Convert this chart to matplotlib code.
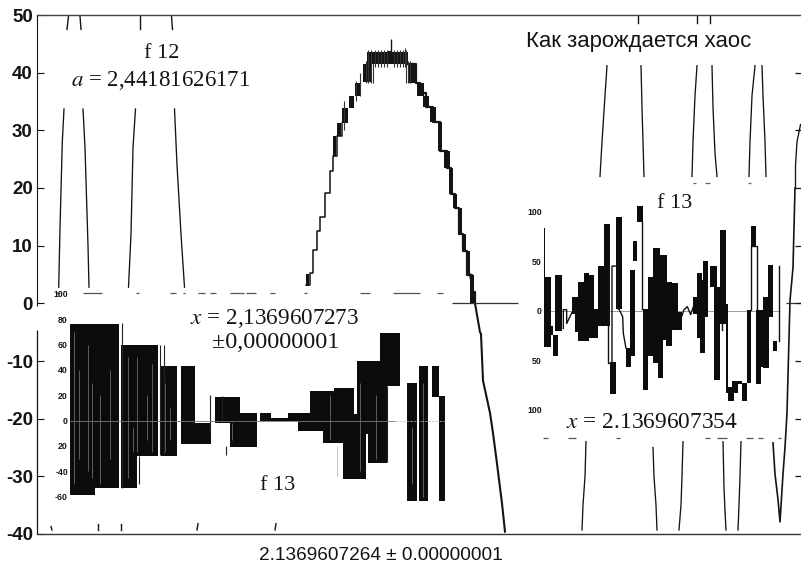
import matplotlib
matplotlib.use("Agg")
import matplotlib.pyplot as plt

W, H = 801, 566
INK = "#141414"
plt.rcParams["mathtext.fontset"] = "stix"
SERIF = "Liberation Serif"
SANS = "Liberation Sans"

# ---------- main plot data (x = position along the axis, y = f12 value) ----------
y_ticks = [50, 40, 30, 20, 10, 0, -10, -20, -30, -40]
branch_x = [
    [58.7, 60, 62.3, 64], [83, 85, 88, 89], [128.5, 131, 133, 135.5], [174.5, 177, 181, 184.5],
    [600, 602, 605, 607], [641, 642, 643, 644], [692, 693, 695, 697], [712, 713, 715, 717],
    [749, 750, 752, 755], [762, 763, 765, 766],
    [586, 585, 583, 582], [653, 654, 656, 657], [683, 682, 681, 679], [723, 724, 725, 726],
    [741, 740, 739, 738], [795.5, 795.5, 797, 800.5],
]
branch_y = [
    [2.8, 13, 28, 33.7], [33.7, 27, 10, 2.8], [2.8, 12, 27, 33.7], [33.7, 24, 12, 2.8],
    [22, 28, 36, 41.2], [41.2, 34, 28, 22], [22, 28, 36, 41.2], [41.2, 34, 26, 22],
    [22, 28, 36, 41.2], [41.2, 36, 28, 22],
    [-24, -30, -35, -39.3], [-25, -30, -35, -39.3], [-24, -30, -35, -39.3], [-24, -32, -36, -39.3],
    [-24, -30, -35, -39.3], [20, 24, 28, 31],
]
stub_x = [[67, 68.5], [80, 81], [140, 140], [171.5, 172.5], [638, 638], [697, 697], [710, 710],
          [52, 51], [98, 98], [121, 121], [197, 198], [275, 276]]
stub_y = [[47.5, 49.8], [49.8, 47.5], [47.5, 49.8], [49.8, 47.5], [48.6, 49.8], [48.6, 49.8], [48.6, 49.8],
          [-39.3, -38.7], [-39.3, -38.2], [-39.3, -38.2], [-39.3, -38.2], [-39.3, -38.2]]
stair_x = [305.5, 310, 313, 317, 320, 325, 330, 333, 337, 342]
stair_y = [3.1, 5.2, 9.2, 12.6, 14.9, 19.2, 23, 25.6, 29, 31.3]
fall_x = [408, 416, 420, 426, 433, 440, 447, 451, 455, 459, 463, 467, 472, 475]
fall_y = [41.5, 38.2, 36.5, 34, 31.5, 26.5, 23.5, 19, 16.5, 12, 9, 5, 2, 0]
tail_x = [470, 475, 477, 480, 481, 483, 490, 493, 497, 502, 505]
tail_y = [5, 0, -2, -5, -5.3, -13.4, -19, -22.5, -27.8, -34.7, -39.6]
right_curve_x = [795, 793, 790, 787, 785, 783, 780, 778, 775, 773]
right_curve_y = [20, 6.2, 0.5, -19, -25, -29.6, -37.9, -34, -29.6, -24.2]
thick_x0 = [306, 333, 337, 342, 349, 355, 363, 367, 408, 417, 423, 430, 437.5, 444, 449, 453, 457.5, 462, 465.5, 470, 388]
thick_x1 = [309, 336, 341, 348, 354, 361, 372, 408, 416, 424, 429, 436, 442, 450, 453, 457, 461.5, 465.5, 470, 474, 391]
thick_lo = [3, 25.6, 29, 31.3, 33.9, 36, 38.3, 41.5, 38.2, 36, 34, 31.5, 26.5, 23.5, 19, 16.5, 12, 9, 5, 0, 43]
thick_hi = [5, 29, 31.3, 33.9, 36, 38.2, 41.5, 43.6, 41.5, 38.2, 36, 34, 31.5, 26.5, 23.5, 19, 16.5, 12, 9, 5, 43.8]
fringe_x = [366, 368, 371, 373, 375, 378, 381, 384, 387, 394, 397, 400, 403, 406, 408, 410, 405, 344, 356, 360]
fringe_lo = [38.2, 38.2, 38.2, 38.2, 41, 41, 41, 41, 41, 41, 41, 41, 41, 38.2, 38.2, 38.2, 41, 30, 35, 36]
fringe_hi = [42, 44, 44, 41.6, 44, 44, 44, 44, 44, 44, 44, 44, 44, 44, 42, 42, 44.3, 35, 38.6, 40]
spike_x = [391]
spike_lo = [43]
spike_hi = [45.8]
zero_x0 = [452, 786]
zero_x1 = [518, 801]
dash_left_x0 = [83, 136, 170, 183, 198, 210, 230, 246, 270, 304, 360, 393, 437, 56]
dash_left_x1 = [102, 139, 176, 185, 205, 216, 244, 256, 275, 307, 370, 420, 443, 60]
dash_up_x0 = [693, 705, 748]
dash_up_x1 = [696, 710, 751]
dash_low_x0 = [543, 568, 616, 705, 717, 746, 758, 778]
dash_low_x1 = [548, 576, 620, 710, 727, 753, 763, 781]
right_ticks = [40, 30, 20, 10, 0, -10, -20, -30]

# ---------- left inset (f13) ----------
left_ticks = [100, 80, 60, 40, 20, 0, -20, -40, -60]
left_labels = ["100", "80", "60", "40", "20", "0", "20", "-40", "-60"]
left_x0 = [70, 95, 121, 136.7, 141.7, 160.7, 180.7, 195, 215, 230, 240, 260, 270.7, 288.3, 298.3, 310,
           322.7, 334, 343.3, 354, 357.3, 365.7, 368.3, 380, 386.7, 400, 407.3, 419.3, 431.7, 439.3]
left_x1 = [95, 118.5, 136.7, 141.7, 158, 176.7, 195, 210.7, 230, 240, 256.7, 270.7, 288.3, 298.3, 310, 322.7,
           334, 343.3, 354, 357.3, 365.7, 368.3, 380, 386.7, 400, 407.3, 416.7, 428.3, 439.3, 445]
left_hi = [76.3, 76.3, 60, 60, 60, 43.4, 43.4, -2.1, 18.9, 18.9, 5.8, 5.8, 2.1, 5.8, 5.8, 23.7,
           23.7, 25.8, 25.8, 5.3, 47.4, 47.4, 47.4, 68.9, 68.9, 27.6, 29.5, 43.4, 43.4, 19.7]
left_lo = [-58.7, -53.2, -53.2, -27.6, -27.6, -27.6, -18.4, -18.4, -2.1, -20.5, -20.5, 0, -0.5, -0.5, -8.4, -8.4,
           -17.9, -17.9, -46, -46, -46, -10.5, -33.7, -33.7, 27.6, 27, -63.7, -63.7, 18.9, -63.7]
left_gap_x = [74, 79, 88, 92, 100, 110, 128, 133, 137, 147, 152, 165, 170, 232, 330, 337, 360, 376, 412, 423]
left_gap_hi = [70, 40, 60, 30, 20, 40, 50, -5, 50, 20, 45, 30, 10, -2, 20, -20, 30, 20, -5, 30]
left_gap_lo = [-50, -30, -40, -45, -50, -30, -45, -25, -25, -15, -25, -25, -15, -15, -15, -44, -40, -30, -50, -60]
left_spike_x = [121.5, 160, 164, 210, 222, 226, 139, 387]
left_spike_hi = [77, 60, 60, 20, 19, -20, -28, 27]
left_spike_lo = [-53, -27, -27, -10, 0, -27, -50, -33]

# ---------- right inset (f13) ----------
right_tick_pos = [100, 50, 0, -50, -100]
right_tick_lab = ["100", "50", "0", "50", "100"]
right_x0 = [192, 192, 212, 218, 225, 275, 285, 295, 315, 312, 328, 342, 355, 372, 390, 408,
            438, 450, 470, 488, 503, 520, 535, 550, 558, 575, 595, 640, 650, 660, 668, 690, 702,
            720, 738, 745, 755, 775, 785, 800, 812, 827, 843, 850, 865, 880, 458]
right_x1 = [194.5, 212, 218, 235, 247, 290, 297, 315, 325, 328, 342, 355, 372, 390, 407, 425,
            452, 465, 490, 503, 520, 540, 550, 560, 575, 595, 605, 650, 665, 675, 685, 710, 720,
            738, 745, 762, 775, 785, 800, 812, 827, 843, 850, 866, 878, 890, 470]
right_hi = [83, 34, -16, -25, 36, 14, 14, 29, 29, 38, 36, 2, 45, 88, -52, 95,
            -38, 41, 106, 2, 34, 63, 56, 56, 29, 28, -1, 14, 38, 31, 50, 45, 24,
            81, 7, -77, -71, -71, -73, 1, 85, 1, 1, 14, 46, -31, 70]
right_lo = [-36, -37, -25, -46, -21, -3, -22, -31, -26, -31, -28, -28, -16, -16, -84, 2,
            -57, -46, 90, -80, -46, -53, -68, -30, -36, -20, -20, -3, -28, -43, -6, 24, -70,
            -13, -83, -91, -83, -74, -91, -73, 65, -74, -57, -58, -6, -41, 50]
right_thin_x = [[250, 250, 260, 260, 280], [384, 384, 390], [396, 396, 412, 412, 416, 428, 430, 438],
                [486, 486], [605, 612, 622, 632, 640], [725, 725], [812, 812, 830, 830], [897, 897]]
right_thin_y = [[-18, 1, 1, -13, 1], [44, -53, -53], [-55, 45, 45, 2, 2, -6, -23, -38],
                [90, 2], [-6, 1, 4, -4, 4], [45, -20], [1, 65, 65, 1], [45, -31]]

# ---------- figure ----------
fig = plt.figure(figsize=(W / 100, H / 100), dpi=100, facecolor="white")


def box(x0, x1, y_top, y_bot):
    return [x0 / W, 1 - y_bot / H, (x1 - x0) / W, (y_bot - y_top) / H]


ax = fig.add_axes(box(37, 801, 15, 534))
ax.set_xlim(37, 801)
ax.set_ylim(-40, 50)
ax.set_xticks([])
ax.set_yticks(y_ticks)
ax.set_yticklabels([str(v) for v in y_ticks], fontfamily=SANS, fontweight="bold", fontsize=13.5, color=INK)
ax.tick_params(axis="y", direction="in", length=5, width=0.8, pad=3, color=INK)
for s in ["right", "left"]:
    ax.spines[s].set_visible(False)
ax.spines["top"].set_linewidth(1.0)
ax.spines["bottom"].set_linewidth(1.0)
ax.spines["top"].set_color("#444444")
ax.spines["bottom"].set_color("#333333")
ax.vlines(37, -0.5, 50, color=INK, lw=0.8, clip_on=False)
ax.vlines(37, -40, -4.6, color=INK, lw=0.9, clip_on=False)

for xs, ys in zip(branch_x, branch_y):
    ax.plot(xs, ys, color=INK, lw=0.95)
for xs, ys in zip(stub_x, stub_y):
    ax.plot(xs, ys, color=INK, lw=1.0)
ax.plot(stair_x, stair_y, color=INK, lw=1.1, drawstyle="steps-post")
ax.plot(fall_x, fall_y, color=INK, lw=1.6, drawstyle="steps-post")
ax.plot(tail_x, tail_y, color=INK, lw=1.5)
ax.plot(right_curve_x, right_curve_y, color=INK, lw=1.2)
ax.bar(thick_x0, [h - l for h, l in zip(thick_hi, thick_lo)],
       width=[b - a for a, b in zip(thick_x0, thick_x1)], bottom=thick_lo, align="edge", color=INK, lw=0)
ax.vlines(fringe_x, fringe_lo, fringe_hi, color="#333333", lw=0.8)
ax.vlines(spike_x, spike_lo, spike_hi, color=INK, lw=1.0)
ax.hlines([0] * len(zero_x0), zero_x0, zero_x1, color="#333333", lw=0.9)
ax.hlines([1.75] * len(dash_left_x0), dash_left_x0, dash_left_x1, color="#555555", lw=0.9)
ax.hlines([20.9] * len(dash_up_x0), dash_up_x0, dash_up_x1, color="#666666", lw=0.9)
ax.hlines([-23.4] * len(dash_low_x0), dash_low_x0, dash_low_x1, color="#555555", lw=0.9)
ax.hlines(right_ticks, 795, 801, color=INK, lw=0.9)

# left inset
al = fig.add_axes(box(70, 447, 285, 510), facecolor="none")
al.set_xlim(70, 447)
al.set_ylim(-70.6, 107)
for s in al.spines.values():
    s.set_visible(False)
al.set_xticks([])
al.set_yticks(left_ticks)
al.set_yticklabels(left_labels, fontfamily=SANS, fontweight="bold", fontsize=6.3, color=INK)
al.tick_params(axis="y", length=0, pad=1.5)
al.bar(left_x0, [h - l for h, l in zip(left_hi, left_lo)],
       width=[b - a for a, b in zip(left_x0, left_x1)], bottom=left_lo, align="edge", color="#0c0c0c", lw=0)
al.vlines(left_gap_x, left_gap_lo, left_gap_hi, color="#9a9a9a", lw=0.4)
al.vlines(left_spike_x, left_spike_lo, left_spike_hi, color="#222222", lw=0.8)
al.hlines(0, 70, 395, color="#777777", lw=0.6, zorder=3)
al.hlines(0, 395, 447, color="#bbbbbb", lw=0.5, linestyles="--")

# right inset
ar = fig.add_axes(box(544, 785, 195, 445), facecolor="none")
ar.set_xlim(192, 915)
ar.set_ylim(-135.7, 116.8)
for s in ar.spines.values():
    s.set_visible(False)
ar.set_xticks([])
ar.set_yticks(right_tick_pos)
ar.set_yticklabels(right_tick_lab, fontfamily=SANS, fontweight="bold", fontsize=6.3, color=INK)
ar.tick_params(axis="y", length=0, pad=1.5)
ar.bar(right_x0, [h - l for h, l in zip(right_hi, right_lo)],
       width=[b - a for a, b in zip(right_x0, right_x1)], bottom=right_lo, align="edge", color="#0c0c0c", lw=0)
for xs, ys in zip(right_thin_x, right_thin_y):
    ar.plot(xs, ys, color="#111111", lw=1.0)
ar.hlines(0, 192, 900, color="#777777", lw=0.5, zorder=0)


def label(px, py, s, **kw):
    fig.text(px / W, 1 - py / H, s, ha="center", va="center", color=INK, **kw)


label(162, 54, "f 12", fontfamily=SERIF, fontsize=16)
label(161, 81, "$\\mathit{a}$ = 2,44181626171", fontfamily=SERIF, fontsize=16.5)
label(639, 42, "Как зарождается хаос", fontfamily=SANS, fontsize=15.9)
label(275, 319, "$\\mathit{x}$ = 2,1369607273", fontfamily=SERIF, fontsize=16.7)
label(276, 343, "±0,00000001", fontfamily=SERIF, fontsize=17.5)
label(278, 485, "f 13", fontfamily=SERIF, fontsize=16)
label(675, 203, "f 13", fontfamily=SERIF, fontsize=16)
label(652, 422, "$\\mathit{x}$ = 2.1369607354", fontfamily=SERIF, fontsize=16.8)
label(381, 555, "2.1369607264 ± 0.00000001", fontfamily=SANS, fontsize=13.7)

fig.savefig("out.png", dpi=100, facecolor="white")
